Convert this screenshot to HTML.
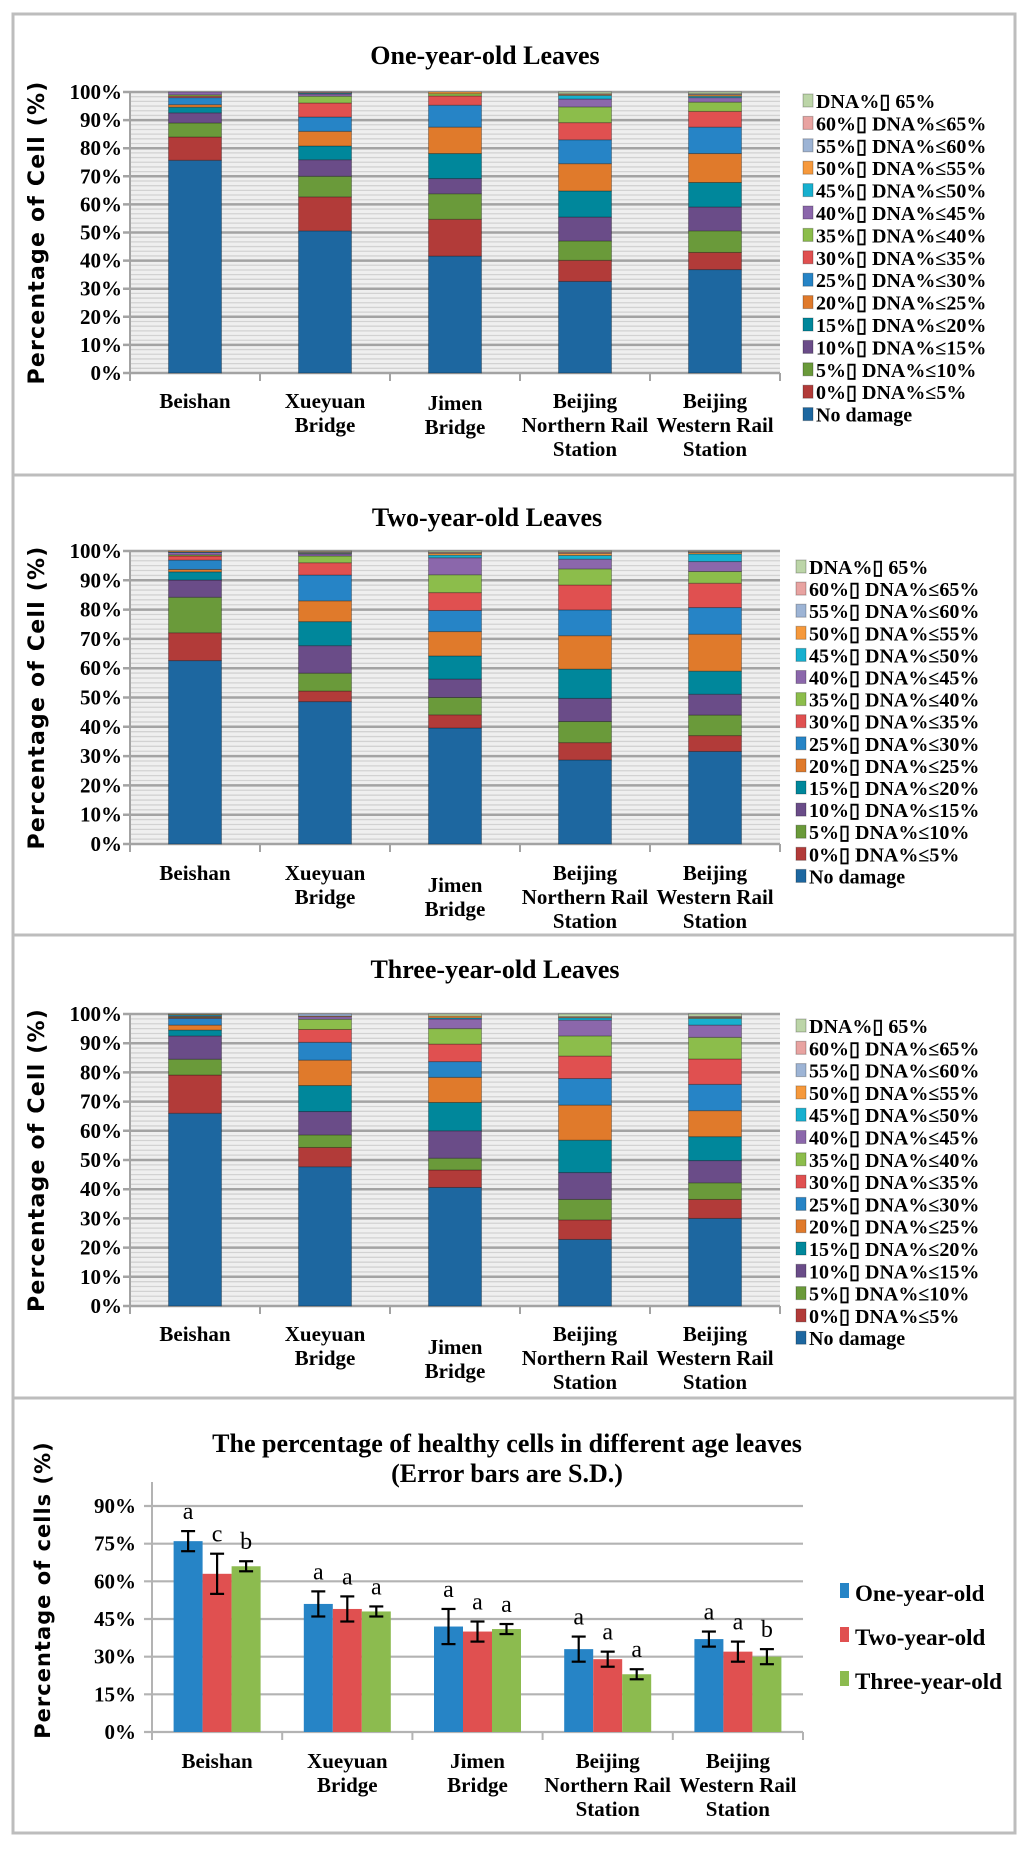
<!DOCTYPE html>
<html><head><meta charset="utf-8">
<style>
html,body{margin:0;padding:0;background:#fff;}
svg{display:block;}
text{font-family:"Liberation Serif",serif;}
</style></head>
<body>
<svg id="fig" width="1024" height="1850" viewBox="0 0 1024 1850" xmlns="http://www.w3.org/2000/svg"></svg>
<script>
// ---------- data ----------
const categories = ["Beishan","Xueyuan Bridge","Jimen Bridge","Beijing Northern Rail Station","Beijing Western Rail Station"];
const catLines = [["Beishan"],["Xueyuan","Bridge"],["Jimen","Bridge"],["Beijing","Northern Rail","Station"],["Beijing","Western Rail","Station"]];
const yTicksStack = ["0%","10%","20%","30%","40%","50%","60%","70%","80%","90%","100%"];
const seriesNames = ["No damage","0%\u25AF DNA%\u22645%","5%\u25AF DNA%\u226410%","10%\u25AF DNA%\u226415%","15%\u25AF DNA%\u226420%","20%\u25AF DNA%\u226425%","25%\u25AF DNA%\u226430%","30%\u25AF DNA%\u226435%","35%\u25AF DNA%\u226440%","40%\u25AF DNA%\u226445%","45%\u25AF DNA%\u226450%","50%\u25AF DNA%\u226455%","55%\u25AF DNA%\u226460%","60%\u25AF DNA%\u226465%","DNA%\u25AF 65%"];
const seriesColors = ["#1d67a0","#b23b39","#6a9a3a","#6a4c88","#00879b","#e07a2b","#2684c6","#e05050","#8cbd4b","#8b67ab","#17b0cf","#f6993c","#9db4d5","#e8a3a1","#bcd5a8"];

// one-year-old: per category, values bottom-up
const oneYearBeishan  = [75.7,8.3,5,3.6,2,0.9,2.5,0.5,0.5,1,0,0,0,0,0];
const oneYearXueyuan  = [50.6,12.1,7.3,5.9,4.9,5.2,5.1,5,2.4,0.8,0.3,0.2,0.1,0.1,0];
const oneYearJimen    = [41.6,13.1,9.1,5.4,8.9,9.4,7.8,3.3,0.8,0,0,0.6,0,0,0];
const oneYearNorthern = [32.6,7.5,6.9,8.5,9.3,9.7,8.5,6.1,5.6,2.8,1.3,0.3,0,0.3,0.6];
const oneYearWestern  = [36.8,6.1,7.7,8.5,8.7,10.3,9.4,5.6,3.3,1.6,0.5,0.5,0.2,0.2,0.6];
// two-year-old
const twoYearBeishan  = [62.6,9.5,12.1,5.9,2.8,0.8,3.2,1.4,0.4,0.8,0.2,0.3,0,0,0];
const twoYearXueyuan  = [48.6,3.6,6.1,9.4,8.2,7.1,8.8,4.2,2.3,0.7,0.2,0.2,0.2,0.2,0.2];
const twoYearJimen    = [39.6,4.5,5.9,6.3,7.9,8.3,7.2,6.1,6.1,5.8,0.9,0.6,0.2,0.2,0.4];
const twoYearNorthern = [28.7,5.9,7.2,7.9,10,11.4,8.8,8.5,5.5,3.3,1.3,0.7,0.2,0.3,0.3];
const twoYearWestern  = [31.6,5.4,7,7.1,7.9,12.6,9.1,8.3,4,3.4,2.6,0.5,0.1,0.2,0.2];
// three-year-old
const threeYearBeishan  = [66,13.1,5.4,8,2,1.7,2.3,0.3,0.3,0.3,0.4,0.2,0,0,0];
const threeYearXueyuan  = [47.7,6.6,4.3,8,8.9,8.7,6.1,4.4,3.5,0.9,0,0.2,0.7,0,0];
const threeYearJimen    = [40.6,6,4,9.4,9.7,8.6,5.4,6,5.3,3.3,0.4,0.6,0,0,0.7];
const threeYearNorthern = [22.8,6.7,7,9.2,11.1,12,9.1,7.7,6.9,5.4,0.8,0.2,0,0.2,0.9];
const threeYearWestern  = [30,6.5,5.7,7.6,8.2,8.9,9,8.7,7.4,4.2,2.3,0.3,0.2,0.2,0.8];

// bottom chart
const healthyTicks = ["0%","15%","30%","45%","60%","75%","90%"];
const ageNames = ["One-year-old","Two-year-old","Three-year-old"];
const ageColors = ["#2684c6","#e05050","#8cbb4f"];
const healthyOne   = [76,51,42,33,37];
const healthyTwo   = [63,49,40,29,32];
const healthyThree = [66,48,41,23,30];
const sdOne   = [4,5,7,5,3];
const sdTwo   = [8,5,4,3,4];
const sdThree = [2,2,2,2,3];
const lettersOne   = ["a","a","a","a","a"];
const lettersTwo   = ["c","a","a","a","a"];
const lettersThree = ["b","a","a","a","b"];

// ---------- helpers ----------
const NS="http://www.w3.org/2000/svg";
const svg=document.getElementById('fig');
function el(tag,attrs,parent){const e=document.createElementNS(NS,tag);for(const k in attrs)e.setAttribute(k,attrs[k]);(parent||svg).appendChild(e);return e;}
function txt(s,attrs,parent){const t=el('text',attrs,parent);t.textContent=s;return t;}

const panelsDef=[
 {title:"One-year-old Leaves",box:[13,14,1002,461],top:92,bottom:373,titleX:485,titleY:64,legX:803,legY:101,legStep:22.4,labOff:27,jimenOff:29,data:[oneYearBeishan,oneYearXueyuan,oneYearJimen,oneYearNorthern,oneYearWestern],key:"one"},
 {title:"Two-year-old Leaves",box:[13,475,1002,460],top:551,bottom:844,titleX:487,titleY:526,legX:796,legY:567,legStep:22.1,labOff:28,jimenOff:40,data:[twoYearBeishan,twoYearXueyuan,twoYearJimen,twoYearNorthern,twoYearWestern],key:"two"},
 {title:"Three-year-old Leaves",box:[13,935,1002,463],top:1014,bottom:1306,titleX:495,titleY:978,legX:796,legY:1026,legStep:22.3,labOff:27,jimenOff:40,data:[threeYearBeishan,threeYearXueyuan,threeYearJimen,threeYearNorthern,threeYearWestern],key:"three"}
];
const plotL=130, plotR=780, catW=(plotR-plotL)/5, barW=53;

panelsDef.forEach(p=>{
  const g=el('g',{});
  
  
  const b=el('rect',{x:p.box[0],y:p.box[1],width:p.box[2],height:p.box[3],fill:'#fff',stroke:'#bdbdbd','stroke-width':3},g);
  
  
  const t=txt(p.title,{x:p.titleX,y:p.titleY,'text-anchor':'middle','font-size':26,'font-weight':'bold',fill:'#000'},g);
  
  
  const y=v=>p.bottom-(p.bottom-p.top)*v/100;
  // plot bg
  const bg=el('rect',{x:plotL,y:p.top,width:plotR-plotL,height:p.bottom-p.top,fill:'#efefef'},g);
  
  
  for(let k=1;k<60;k++){ if(k%6===0)continue; el('line',{x1:plotL,x2:plotR,y1:y(k*10/6),y2:y(k*10/6),stroke:'#d2d2d2','stroke-width':1.3},g);}
  yTicksStack.forEach((lab,i)=>{
    const v=i*10;
    const gl=el('line',{x1:plotL-7,x2:plotR,y1:y(v),y2:y(v),stroke:'#a3a3a3','stroke-width':2.5},g);
    
    
    const tl=txt(lab,{x:plotL-8,y:y(v)+7,'text-anchor':'end','font-size':21,'font-weight':'bold'},g);
    
    
  });
  el('line',{x1:plotL,x2:plotL,y1:p.top,y2:p.bottom,stroke:'#a3a3a3','stroke-width':2},g);
  for(let i=0;i<=5;i++) el('line',{x1:plotL+i*catW,x2:plotL+i*catW,y1:p.bottom,y2:p.bottom+8,stroke:'#a3a3a3','stroke-width':2},g);
  // bars
  p.data.forEach((vals,ci)=>{
    const cx=plotL+catW*(ci+0.5);
    let cum=0;
    vals.forEach((v,si)=>{
      if(v<=0){return;}
      const y0=y(cum), y1=y(cum+v); cum+=v;
      const r=el('rect',{x:cx-barW/2,y:y1,width:barW,height:Math.max(0.5,y0-y1),fill:seriesColors[si],stroke:'rgba(0,0,0,0.28)','stroke-width':1},g);
      
      
    });
    const lines=catLines[ci];
    const off = ci===2 ? p.jimenOff : p.labOff;
    lines.forEach((ln,li)=>{
      const cl=txt(ln,{x:cx,y:p.bottom+off+8+li*24,'text-anchor':'middle','font-size':21,'font-weight':'bold'},g);
      
      
    });
  });
  // y axis title
  const cy=(p.top+p.bottom)/2;
  const yt=txt("Percentage of Cell (%)",{x:0,y:0,transform:`translate(44,${cy}) rotate(-90)`,'text-anchor':'middle','font-size':22,'font-weight':'bold','letter-spacing':'1.2',style:'font-family:"DejaVu Sans","Liberation Sans",sans-serif'},g);
  
  
  // legend
  for(let k=0;k<15;k++){
    const si=14-k;
    const ly=p.legY+k*p.legStep;
    const le=el('g',{},g);
    
    
    el('rect',{x:p.legX,y:ly-7,width:10,height:13,fill:seriesColors[si],stroke:'rgba(0,0,0,0.25)','stroke-width':1},le);
    txt(seriesNames[si],{x:p.legX+13,y:ly+7,'font-size':20,'font-weight':'bold'},le);
  }
});

// ---------- bottom grouped bar chart ----------
(function(){
  const g=el('g',{});
  
  
  const b=el('rect',{x:13,y:1398,width:1002,height:435,fill:'#fff',stroke:'#bdbdbd','stroke-width':3},g);
  
  
  const t1=txt("The percentage of healthy cells in different age leaves",{x:507,y:1452,'text-anchor':'middle','font-size':26,'font-weight':'bold'},g);
  
  
  const t2=txt("(Error bars are S.D.)",{x:507,y:1482,'text-anchor':'middle','font-size':26,'font-weight':'bold'},g);
  
  
  const L=152,R=803,B=1732,T90=1506;
  const y=v=>B-(B-T90)*v/90;
  healthyTicks.forEach((lab)=>{
    const v=parseFloat(lab);
    const gl=el('line',{x1:L-8,x2:R,y1:y(v),y2:y(v),stroke:'#b3b3b3','stroke-width':2.2},g);
    
    
    const tl=txt(lab,{x:136,y:y(v)+7,'text-anchor':'end','font-size':21,'font-weight':'bold'},g);
    
    
  });
  el('line',{x1:L,x2:L,y1:1482,y2:B+6,stroke:'#b3b3b3','stroke-width':2},g);
  const cw=(R-L)/5, bw=29;
  for(let i=0;i<=5;i++) el('line',{x1:L+i*cw,x2:L+i*cw,y1:B,y2:B+8,stroke:'#b3b3b3','stroke-width':2},g);
  const vals=[healthyOne,healthyTwo,healthyThree], sds=[sdOne,sdTwo,sdThree], lets=[lettersOne,lettersTwo,lettersThree];
  categories.forEach((c,ci)=>{
    const cx=L+cw*(ci+0.5);
    for(let s=0;s<3;s++){
      const x=cx+(s-1.5)*bw;
      const v=vals[s][ci], sd=sds[s][ci];
      const r=el('rect',{x:x,y:y(v),width:bw,height:B-y(v),fill:ageColors[s]},g);
      
      
      const ex=x+bw/2;
      const eb=el('g',{stroke:'#000','stroke-width':2.2},g);
      
      
      el('line',{x1:ex,x2:ex,y1:y(v+sd),y2:y(v-sd)},eb);
      el('line',{x1:ex-7,x2:ex+7,y1:y(v+sd),y2:y(v+sd)},eb);
      el('line',{x1:ex-7,x2:ex+7,y1:y(v-sd),y2:y(v-sd)},eb);
      const lt=txt(lets[s][ci],{x:ex,y:y(v+sd)-12,'text-anchor':'middle','font-size':24},g);
      
      
    }
    catLines[ci].forEach((ln,li)=>{
      const cl=txt(ln,{x:cx,y:1768+li*24,'text-anchor':'middle','font-size':21,'font-weight':'bold'},g);
      
      
    });
  });
  const yt=txt("Percentage of cells (%)",{x:0,y:0,transform:'translate(50,1590) rotate(-90)','text-anchor':'middle','font-size':21,'font-weight':'bold','letter-spacing':'1',style:'font-family:"DejaVu Sans","Liberation Sans",sans-serif'},g);
  
  
  ageNames.forEach((n,i)=>{
    const ly=1592+i*44;
    const le=el('g',{},g);
    
    
    el('rect',{x:840,y:ly-9,width:9,height:15,fill:ageColors[i]},le);
    txt(n,{x:855,y:ly+9,'font-size':23,'font-weight':'bold'},le);
  });
})();
</script>
</body></html>
